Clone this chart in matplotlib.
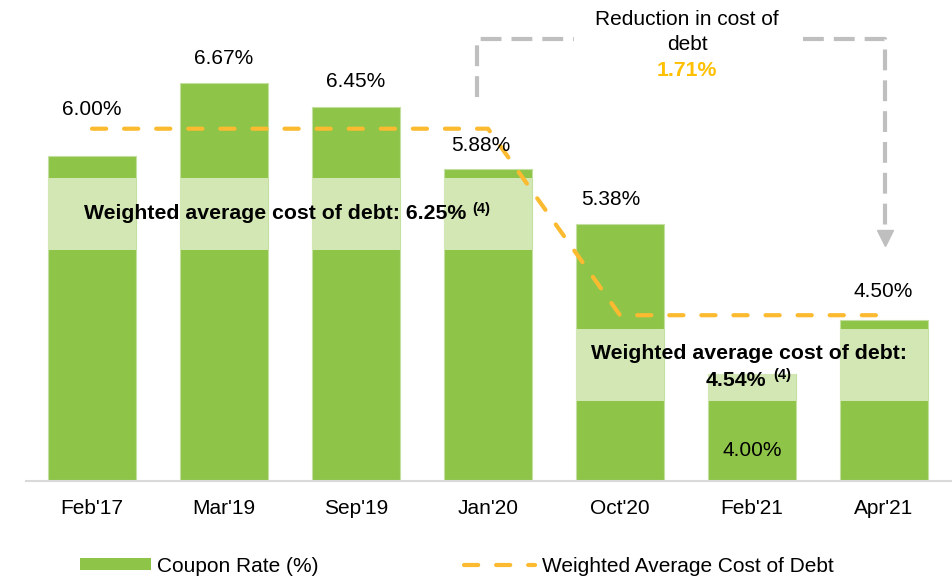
import matplotlib
matplotlib.use('Agg')
import matplotlib.pyplot as plt
from matplotlib.patches import Patch
from matplotlib.lines import Line2D

plt.rcParams['font.family'] = ['Liberation Sans', 'DejaVu Sans']

# ---- data ----
categories = ["Feb'17", "Mar'19", "Sep'19", "Jan'20", "Oct'20", "Feb'21", "Apr'21"]
coupon = [6.00, 6.67, 6.45, 5.88, 5.38, 4.00, 4.50]
wacd = [6.25, 6.25, 6.25, 6.25, 4.54, 4.54, 4.54]
band_low = [5.14, 5.14, 5.14, 5.14, 3.75, 3.75, 3.75]
band_high = [5.80, 5.80, 5.80, 5.80, 4.41, 4.41, 4.41]

# ---- style ----
GREEN = '#8EC549'
LIGHT = '#D2E7B4'
EDGE = '#C3E0A0'
ORANGE = '#FBBA30'
GOLD = '#FFC000'
GRAY = '#BFBFBF'
FS = 15
FSB = 15.3
PX = 0.72  # points per pixel at 100 dpi
label_offsets_px = [(0, 46), (0, 24), (0, 25), (-7, 24), (-9, 24), (0, -76), (-1, 28)]

fig = plt.figure(figsize=(9.52, 5.77), dpi=100)
ax = fig.add_axes([26 / 952, 96 / 577, 926 / 952, 481 / 577])
ax.set_xlim(-0.5, 6.515)
ax.set_ylim(3.02, 7.43)

x = list(range(len(categories)))

# bars
ax.bar(x, coupon, width=0.667, color=GREEN, edgecolor=EDGE, linewidth=0.8, zorder=2)
band_h = [min(h, v) - l for h, l, v in zip(band_high, band_low, coupon)]
ax.bar(x, band_h, bottom=band_low, width=0.667, color=LIGHT, edgecolor='none', linewidth=0, zorder=3)

# weighted average line
dash = (0, (3.4, 4.3))
ax.plot(x, wacd, color=ORANGE, lw=3, ls=dash, dash_capstyle='round', zorder=4)

# value labels
for xi, v, (dx, dy) in zip(x, coupon, label_offsets_px):
    ax.annotate(f"{v:.2f}%", xy=(xi, v), xytext=(dx * PX, dy * PX), textcoords='offset points',
                ha='center', va='center', fontsize=FS, color='black', zorder=6)

# band annotations
t1 = ax.text(-0.06, (band_low[0] + band_high[0]) / 2, f"Weighted average cost of debt: {wacd[0]:.2f}%",
             fontsize=FSB, fontweight='bold', ha='left', va='center', zorder=6)
ax.annotate("(4)", xy=(1, 1), xycoords=t1, xytext=(4, 2), textcoords='offset points',
            fontsize=10.5, fontweight='bold', ha='left', va='top', zorder=6)
ax.text(4.98, 4.19, "Weighted average cost of debt:", fontsize=FSB, fontweight='bold',
        ha='center', va='center', zorder=6)
t2 = ax.text(4.88, 3.94, f"{wacd[-1]:.2f}%", fontsize=FSB, fontweight='bold',
             ha='center', va='center', zorder=6)
ax.annotate("(4)", xy=(1, 1), xycoords=t2, xytext=(5, 2), textcoords='offset points',
            fontsize=10.5, fontweight='bold', ha='left', va='top', zorder=6)

# reduction bracket
gdash = (0, (5.0, 2.4))
ax.plot([2.917, 2.917, 3.65], [6.54, 7.075, 7.075], color=GRAY, lw=3, ls=gdash, solid_capstyle='butt', zorder=1)
ax.plot([5.386, 6.008, 6.008], [7.075, 7.075, 5.33], color=GRAY, lw=3, ls=gdash, solid_capstyle='butt', zorder=1)
ax.plot([6.008], [5.245], marker='v', markersize=11, color=GRAY, zorder=1)
ax.text(4.508, 7.255, "Reduction in cost of", fontsize=FS, ha='center', va='center')
ax.text(4.508, 7.02, "debt", fontsize=FS, ha='center', va='center')
ax.text(4.508, 6.785, f"{wacd[0] - wacd[-1]:.2f}%", fontsize=FSB, fontweight='bold', color=GOLD,
        ha='center', va='center')

# axes styling
ax.set_xticks(x, categories)
ax.tick_params(axis='x', length=0, pad=13, labelsize=FS)
ax.set_yticks([])
for s in ['left', 'right', 'top']:
    ax.spines[s].set_visible(False)
ax.spines['bottom'].set_color('#D9D9D9')
ax.spines['bottom'].set_linewidth(1.5)
ax.spines['bottom'].set_zorder(5)

# legend
handles = [Patch(facecolor=GREEN, edgecolor='none'),
           Line2D([], [], color=ORANGE, lw=3, ls=dash, dash_capstyle='round')]
fig.legend(handles, ["Coupon Rate (%)", "Weighted Average Cost of Debt"],
           loc='center left', bbox_to_anchor=(80 / 952, 1 - 566 / 577), ncol=2, frameon=False,
           fontsize=FS, handlelength=3.4, handleheight=0.55, handletextpad=0.3,
           columnspacing=7.0, borderpad=0, borderaxespad=0)

fig.savefig('out.png', dpi=100)
